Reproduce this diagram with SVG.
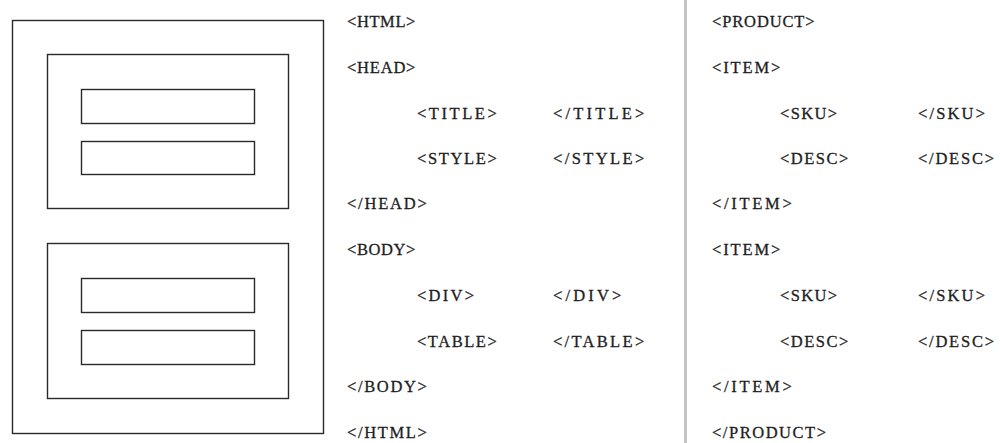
<svg xmlns="http://www.w3.org/2000/svg" width="1000" height="443" viewBox="0 0 1000 443">
<style>
.box{fill:none;stroke:#2a2a2a;stroke-width:1.4}
.t{font-family:"Liberation Serif","Times New Roman",serif;font-size:16.5px;fill:#1e1e1e;stroke:#1e1e1e;stroke-width:0.3}
</style>
<rect width="1000" height="443" fill="#ffffff"/>
<g id="page"><rect class="box" x="12.5" y="20.5" width="311" height="413"/></g>
<g id="head-box"><rect class="box" x="47.5" y="54.5" width="241" height="154"/></g>
<g id="title-box"><rect class="box" x="81.5" y="89.5" width="173" height="34"/></g>
<g id="style-box"><rect class="box" x="81.5" y="141.5" width="173" height="33"/></g>
<g id="body-box"><rect class="box" x="47.5" y="243.5" width="241" height="155"/></g>
<g id="div-box"><rect class="box" x="81.5" y="278.5" width="173" height="34"/></g>
<g id="table-box"><rect class="box" x="81.5" y="330.5" width="173" height="34"/></g>
<g id="divider"><rect x="684" y="0" width="3" height="443" fill="#c4c4c4"/></g>
<g id="connectors"></g>
<g id="html-code" class="t">
<text x="347" y="27" textLength="68.4" lengthAdjust="spacing">&lt;HTML&gt;</text>
<text x="347" y="73" textLength="68.4" lengthAdjust="spacing">&lt;HEAD&gt;</text>
<text x="417" y="119" textLength="79.8" lengthAdjust="spacing">&lt;TITLE&gt;</text>
<text x="553" y="119" textLength="91.2" lengthAdjust="spacing">&lt;/TITLE&gt;</text>
<text x="417" y="164" textLength="79.8" lengthAdjust="spacing">&lt;STYLE&gt;</text>
<text x="553" y="164" textLength="91.2" lengthAdjust="spacing">&lt;/STYLE&gt;</text>
<text x="347" y="209" textLength="79.8" lengthAdjust="spacing">&lt;/HEAD&gt;</text>
<text x="347" y="255" textLength="68.4" lengthAdjust="spacing">&lt;BODY&gt;</text>
<text x="417" y="301" textLength="57" lengthAdjust="spacing">&lt;DIV&gt;</text>
<text x="553" y="301" textLength="68.4" lengthAdjust="spacing">&lt;/DIV&gt;</text>
<text x="417" y="347" textLength="79.8" lengthAdjust="spacing">&lt;TABLE&gt;</text>
<text x="553" y="347" textLength="91.2" lengthAdjust="spacing">&lt;/TABLE&gt;</text>
<text x="347" y="392" textLength="79.8" lengthAdjust="spacing">&lt;/BODY&gt;</text>
<text x="347" y="438" textLength="79.8" lengthAdjust="spacing">&lt;/HTML&gt;</text>
</g>
<g id="xml-code" class="t">
<text x="712" y="27" textLength="102.6" lengthAdjust="spacing">&lt;PRODUCT&gt;</text>
<text x="712" y="73" textLength="68.4" lengthAdjust="spacing">&lt;ITEM&gt;</text>
<text x="780" y="119" textLength="57" lengthAdjust="spacing">&lt;SKU&gt;</text>
<text x="918" y="119" textLength="67" lengthAdjust="spacing">&lt;/SKU&gt;</text>
<text x="780" y="164" textLength="68.4" lengthAdjust="spacing">&lt;DESC&gt;</text>
<text x="918" y="164" textLength="76" lengthAdjust="spacing">&lt;/DESC&gt;</text>
<text x="712" y="209" textLength="79.8" lengthAdjust="spacing">&lt;/ITEM&gt;</text>
<text x="712" y="255" textLength="68.4" lengthAdjust="spacing">&lt;ITEM&gt;</text>
<text x="780" y="301" textLength="57" lengthAdjust="spacing">&lt;SKU&gt;</text>
<text x="918" y="301" textLength="67" lengthAdjust="spacing">&lt;/SKU&gt;</text>
<text x="780" y="347" textLength="68.4" lengthAdjust="spacing">&lt;DESC&gt;</text>
<text x="918" y="347" textLength="76" lengthAdjust="spacing">&lt;/DESC&gt;</text>
<text x="712" y="392" textLength="79.8" lengthAdjust="spacing">&lt;/ITEM&gt;</text>
<text x="712" y="438" textLength="114" lengthAdjust="spacing">&lt;/PRODUCT&gt;</text>
</g>
</svg>
